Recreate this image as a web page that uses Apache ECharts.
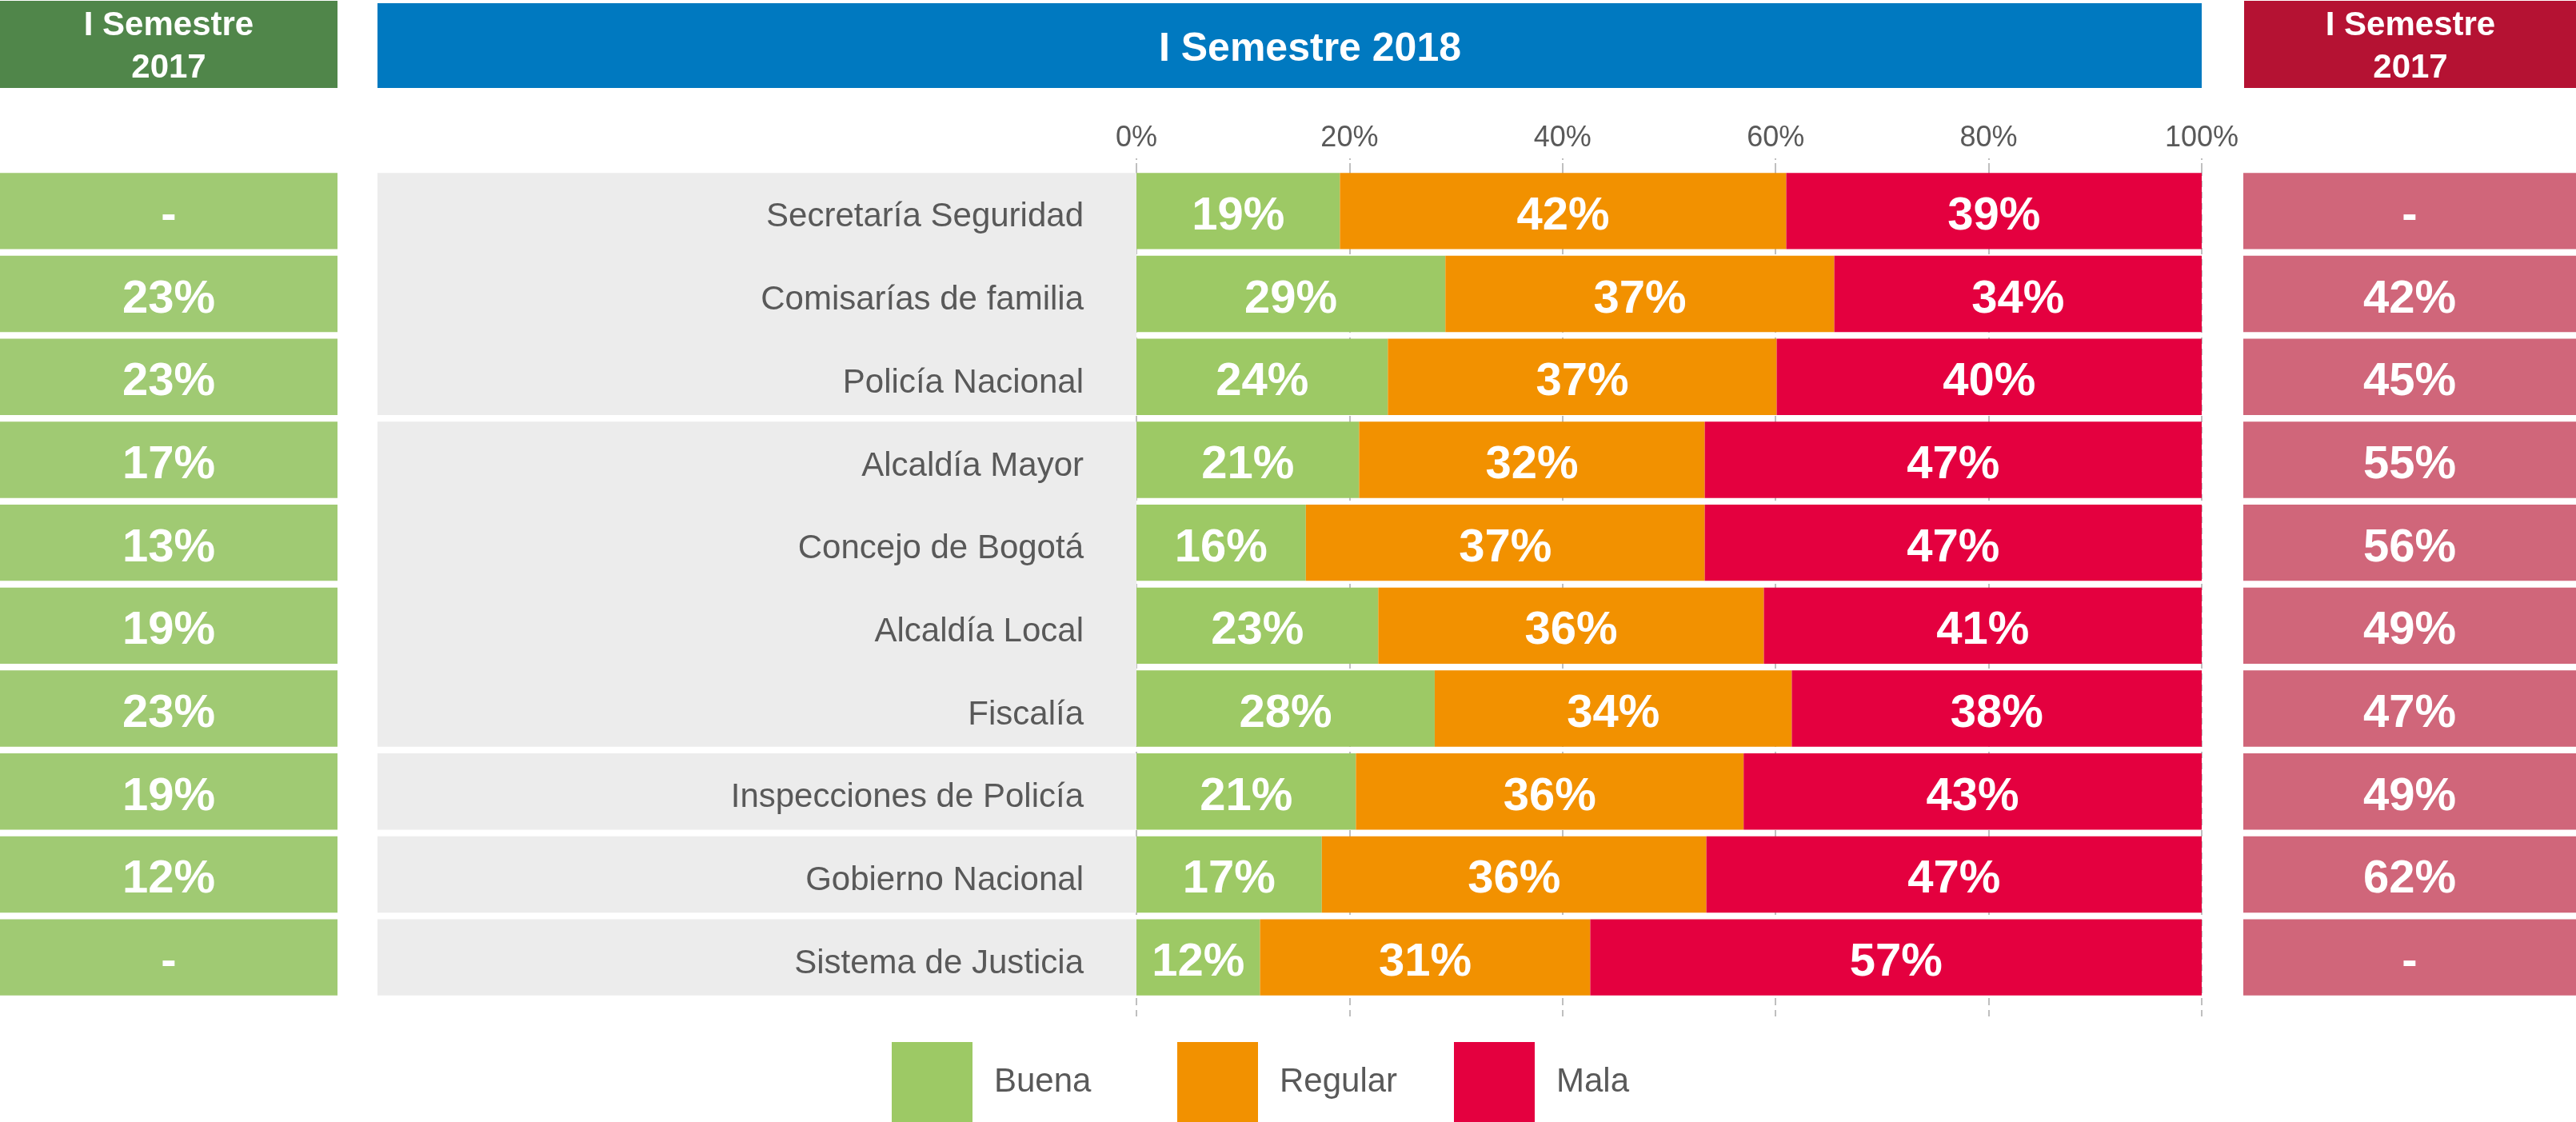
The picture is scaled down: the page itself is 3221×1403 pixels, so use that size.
<!DOCTYPE html>
<html>
<head>
<meta charset="utf-8">
<script src="https://cdn.jsdelivr.net/npm/echarts@6/dist/echarts.min.js"></script>
<style>
  html, body { margin: 0; padding: 0; background: #fff; }
  #chart { width: 3221px; height: 1403px; }
</style>
</head>
<body>
<div id="chart"></div>
<script>
// categorias (de arriba hacia abajo)
var categories = ['Secretaría Seguridad', 'Comisarías de familia', 'Policía Nacional', 'Alcaldía Mayor',
  'Concejo de Bogotá', 'Alcaldía Local', 'Fiscalía', 'Inspecciones de Policía', 'Gobierno Nacional',
  'Sistema de Justicia'];

// I Semestre 2018 (%)
var buena = [19.1, 29.0, 23.6, 20.9, 15.9, 22.7, 28.0, 20.6, 17.4, 11.6];
var regular = [41.9, 36.51, 36.5, 32.45, 37.45, 36.2, 33.52, 36.4, 36.1, 31.0];
var mala = [39.0, 34.49, 39.9, 46.65, 46.65, 41.1, 38.48, 43.0, 46.5, 57.4];

// I Semestre 2017 (null = sin dato)
var buena2017 = [null, 23, 23, 17, 13, 19, 23, 19, 12, null];
var mala2017 = [null, 42, 45, 55, 56, 49, 47, 49, 62, null];

// grupos del fondo gris (indice primera fila, ultima fila)
var rowGroups = [[0, 2], [3, 6], [7, 7], [8, 8], [9, 9]];

var FONT = '"Liberation Sans", Arial, sans-serif';
var GRAY_TXT = '#595959';
var GAP = 0.08;

var chart = echarts.init(document.getElementById('chart'));

var gridPos = { top: 212, height: 1037 };

function valueLabel(v) {
  return Math.round(v) + '%';
}

function cellLabel(arr) {
  return function (p) {
    var v = arr[p.dataIndex];
    return v == null ? '-' : v + '%';
  };
}

var bigLabel = {
  show: true,
  color: '#fff',
  fontWeight: 'bold',
  fontSize: 58,
  fontFamily: FONT,
  offset: [0, 7]
};

function hiddenY(gi) {
  return { type: 'category', gridIndex: gi, data: categories, inverse: true, show: false };
}
function hiddenX(gi) {
  return { type: 'value', gridIndex: gi, min: 0, max: 1, show: false };
}

var option = {
  animation: false,
  textStyle: { fontFamily: FONT },
  grid: [
    { left: 1421, width: 1332, top: gridPos.top, height: gridPos.height },
    { left: 472, width: 949, top: gridPos.top, height: gridPos.height },
    { left: 0, width: 422, top: gridPos.top, height: gridPos.height },
    { left: 2805, width: 416, top: gridPos.top, height: gridPos.height }
  ],
  xAxis: [
    {
      type: 'value', gridIndex: 0, position: 'top', min: 0, max: 100, interval: 20,
      axisLine: { show: false },
      axisTick: { show: true, length: 14, lineStyle: { color: '#BFBFBF', width: 2, type: 'dashed' } },
      axisLabel: { formatter: '{value}%', color: GRAY_TXT, fontSize: 36, margin: 21 },
      splitLine: { show: true, lineStyle: { color: '#BFBFBF', width: 2, type: [8, 6] } }
    },
    {
      type: 'value', gridIndex: 0, position: 'bottom', min: 0, max: 100, interval: 20,
      axisLine: { show: false },
      axisTick: { show: true, length: 24, lineStyle: { color: '#BFBFBF', width: 2, type: [8, 6] } },
      axisLabel: { show: false },
      splitLine: { show: false }
    },
    hiddenX(1),
    hiddenX(2),
    hiddenX(3)
  ],
  yAxis: [
    {
      type: 'category', gridIndex: 0, data: categories, inverse: true,
      axisLine: { show: false },
      axisTick: { show: false },
      axisLabel: {
        margin: 66,
        formatter: function (v) { return '{c|' + v + '}'; },
        rich: { c: { color: GRAY_TXT, fontSize: 42, fontFamily: FONT, padding: [16, 0, 0, 0] } }
      }
    },
    hiddenY(1),
    hiddenY(2),
    hiddenY(3)
  ],
  legend: [
    { data: ['Buena'], left: 1115, top: 1303 },
    { data: ['Regular'], left: 1472, top: 1303 },
    { data: ['Mala'], left: 1818, top: 1303 }
  ].map(function (l) {
    l.padding = 0;
    l.itemWidth = 101;
    l.itemHeight = 100;
    l.icon = 'rect';
    l.selectedMode = false;
    l.textStyle = { color: GRAY_TXT, fontSize: 42, padding: [8, 0, 0, 22] };
    return l;
  }),
  graphic: [
    { type: 'rect', shape: { x: 0, y: 1, width: 422, height: 109 }, style: { fill: '#50864A' } },
    { type: 'text', x: 211, y: 59, style: { text: 'I Semestre\n2017', fill: '#fff', font: 'bold 42px ' + FONT, align: 'center', verticalAlign: 'middle', lineHeight: 53 } },
    { type: 'rect', shape: { x: 472, y: 4, width: 2281, height: 106 }, style: { fill: '#0079C0' } },
    { type: 'text', x: 1638, y: 62, style: { text: 'I Semestre 2018', fill: '#fff', font: 'bold 50px ' + FONT, align: 'center', verticalAlign: 'middle' } },
    { type: 'rect', shape: { x: 2806, y: 1, width: 415, height: 109 }, style: { fill: '#B51233' } },
    { type: 'text', x: 3014, y: 59, style: { text: 'I Semestre\n2017', fill: '#fff', font: 'bold 42px ' + FONT, align: 'center', verticalAlign: 'middle', lineHeight: 53 } }
  ],
  series: [
    {
      // fondo gris detras de las etiquetas
      type: 'custom', xAxisIndex: 2, yAxisIndex: 1, silent: true, z: 0,
      encode: { x: [0, 2], y: [1, 3] },
      data: rowGroups.map(function (g) { return [0, g[0], 1, g[1]]; }),
      renderItem: function (params, api) {
        var band = api.size([0, 1])[1];
        var p0 = api.coord([api.value(0), api.value(1)]);
        var p1 = api.coord([api.value(2), api.value(3)]);
        var half = band * (1 - GAP) / 2;
        return {
          type: 'rect',
          shape: { x: p0[0], y: p0[1] - half, width: p1[0] - p0[0], height: p1[1] - p0[1] + 2 * half },
          style: { fill: '#ECECEC' }
        };
      }
    },
    {
      name: 'Buena', type: 'bar', stack: 'total', xAxisIndex: 0, yAxisIndex: 0,
      barCategoryGap: '8%', data: buena, itemStyle: { color: '#9DC965' },
      label: Object.assign({ position: 'inside', formatter: function (p) { return valueLabel(p.value); } }, bigLabel)
    },
    {
      name: 'Regular', type: 'bar', stack: 'total', xAxisIndex: 0, yAxisIndex: 0,
      barCategoryGap: '8%', data: regular, itemStyle: { color: '#F29100' },
      label: Object.assign({ position: 'inside', formatter: function (p) { return valueLabel(p.value); } }, bigLabel)
    },
    {
      name: 'Mala', type: 'bar', stack: 'total', xAxisIndex: 0, yAxisIndex: 0,
      barCategoryGap: '8%', data: mala, itemStyle: { color: '#E4003F' },
      label: Object.assign({ position: 'inside', formatter: function (p) { return valueLabel(p.value); } }, bigLabel)
    },
    {
      // columna izquierda: Buena 2017
      type: 'bar', xAxisIndex: 3, yAxisIndex: 2, barCategoryGap: '8%', silent: true,
      data: buena2017.map(function () { return 1; }),
      itemStyle: { color: '#A0CA73' },
      label: Object.assign({ position: 'inside', formatter: cellLabel(buena2017) }, bigLabel)
    },
    {
      // columna derecha: Mala 2017
      type: 'bar', xAxisIndex: 4, yAxisIndex: 3, barCategoryGap: '8%', silent: true,
      data: mala2017.map(function () { return 1; }),
      itemStyle: { color: '#D0667A' },
      label: Object.assign({ position: 'inside', formatter: cellLabel(mala2017) }, bigLabel)
    }
  ]
};

chart.setOption(option);
</script>
</body>
</html>
